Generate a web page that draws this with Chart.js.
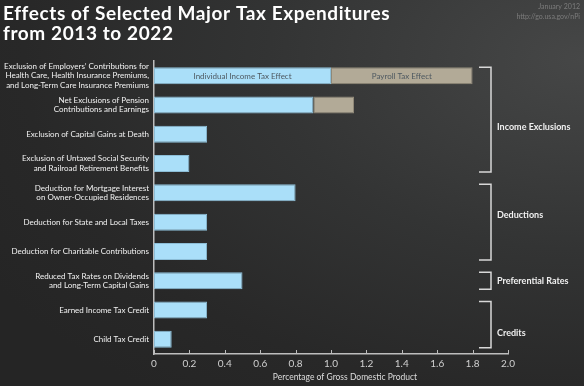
<!DOCTYPE html>
<html>
<head>
<meta charset="utf-8">
<script src="https://cdn.jsdelivr.net/npm/chart.js@4.4.1/dist/chart.umd.min.js"></script>
<style>
html, body { margin: 0; padding: 0; }
body {
    width: 584px; height: 386px; overflow: hidden;
    background: radial-gradient(ellipse 120% 110% at 100% 15%, #464747 0%, #333434 45%, #282828 80%, #252525 100%);
}
#wrap { position: relative; width: 584px; height: 386px; }
</style>
</head>
<body>
<div id="wrap"><canvas id="tax-chart"></canvas></div>
<script>
const titleLines = ['Effects of Selected Major Tax Expenditures', 'from 2013 to 2022'];
const sourceLines = ['January 2012', 'http://go.usa.gov/nPi'];

const categories = [
    ['Exclusion of Employers’ Contributions for', 'Health Care, Health Insurance Premiums,', 'and Long-Term Care Insurance Premiums'],
    ['Net Exclusions of Pension', 'Contributions and Earnings'],
    'Exclusion of Capital Gains at Death',
    ['Exclusion of Untaxed Social Security', 'and Railroad Retirement Benefits'],
    ['Deduction for Mortgage Interest', 'on Owner-Occupied Residences'],
    'Deduction for State and Local Taxes',
    'Deduction for Charitable Contributions',
    ['Reduced Tax Rates on Dividends', 'and Long-Term Capital Gains'],
    'Earned Income Tax Credit',
    'Child Tax Credit'
];
const individualIncome = [1.0, 0.9, 0.3, 0.2, 0.8, 0.3, 0.3, 0.5, 0.3, 0.1];
const payrollTax = [0.8, 0.23, 0, 0, 0, 0, 0, 0, 0, 0];
const seriesNames = ['Individual Income Tax Effect', 'Payroll Tax Effect'];
const xTickLabels = ['0', '0.2', '0.4', '0.6', '0.8', '1.0', '1.2', '1.4', '1.6', '1.8', '2.0'];
const xTitle = 'Percentage of Gross Domestic Product';

const groupNames = ['Income Exclusions', 'Deductions', 'Preferential Rates', 'Credits'];
const groupFirst = [0, 4, 7, 8];
const groupLast  = [3, 6, 7, 9];

const FONT = 'Lato';
// the group labels don't sit exactly mid-bracket in the original
const groupLabelShift = [7, -7, 0, 8];

const extras = {
    id: 'extras',
    afterDatasetsDraw(chart) {
        const { ctx } = chart;
        ctx.save();
        ctx.font = `8px ${FONT}`;
        ctx.fillStyle = '#4d5860';
        ctx.textAlign = 'center';
        ctx.textBaseline = 'middle';
        [0, 1].forEach(d => {
            const bar = chart.getDatasetMeta(d).data[0];
            ctx.fillText(seriesNames[d], (bar.x + bar.base) / 2, bar.y + 0.5);
        });
        ctx.restore();
    },
    afterDraw(chart) {
        const { ctx, chartArea, scales: { x } } = chart;
        ctx.save();

        // title
        ctx.fillStyle = '#ffffff';
        ctx.font = `bold 19px ${FONT}`;
        ctx.letterSpacing = '0.6px';
        ctx.textAlign = 'left';
        ctx.textBaseline = 'alphabetic';
        ctx.fillText(titleLines[0], 3, 20);
        ctx.fillText(titleLines[1], 3, 40);
        ctx.letterSpacing = '0px';

        // source note
        ctx.fillStyle = '#7c7c7c';
        ctx.font = `7px ${FONT}`;
        ctx.textAlign = 'right';
        ctx.textBaseline = 'middle';
        ctx.fillText(sourceLines[0], 580, 7);
        ctx.fillText(sourceLines[1], 580, 17);

        // axis title
        ctx.fillStyle = '#dddddd';
        ctx.font = `8.5px ${FONT}`;
        ctx.textAlign = 'center';
        ctx.fillText(xTitle, 345, 377);

        // upward tick marks
        ctx.strokeStyle = '#bdbdbd';
        ctx.lineWidth = 1;
        ctx.beginPath();
        x.ticks.forEach(t => {
            const px = Math.round(x.getPixelForValue(t.value)) + 0.5;
            ctx.moveTo(px, chartArea.bottom);
            ctx.lineTo(px, chartArea.bottom - 4);
        });
        ctx.stroke();

        // group brackets
        const meta = chart.getDatasetMeta(0);
        const bx = chartArea.right - 17, ax = chartArea.right - 29;
        ctx.strokeStyle = '#d8d8d8';
        ctx.lineWidth = 1.5;
        ctx.fillStyle = '#f0f0f0';
        ctx.font = `bold 9px ${FONT}`;
        ctx.textAlign = 'left';
        groupNames.forEach((name, i) => {
            const a = meta.data[groupFirst[i]], b = meta.data[groupLast[i]];
            const top = a.y - a.height / 2, bot = b.y + b.height / 2;
            ctx.beginPath();
            ctx.moveTo(ax, top);
            ctx.lineTo(bx, top);
            ctx.lineTo(bx, bot);
            ctx.lineTo(ax, bot);
            ctx.stroke();
            ctx.fillText(name, bx + 6, (top + bot) / 2 + groupLabelShift[i]);
        });
        ctx.restore();
    }
};

const ctx = document.getElementById('tax-chart').getContext('2d');
const taxChart = new Chart(ctx, {
    type: 'bar',
    data: {
        labels: categories,
        datasets: [
            {
                label: seriesNames[0],
                data: individualIncome,
                backgroundColor: '#aadff9',
                borderColor: '#8cbdd6',
                borderWidth: 1,
                borderSkipped: false,
            },
            {
                label: seriesNames[1],
                data: payrollTax,
                backgroundColor: '#b2aa97',
                borderColor: '#8f8877',
                borderWidth: 1,
                borderSkipped: false,
            }
        ]
    },
    options: {
        indexAxis: 'y',
        responsive: true,
        maintainAspectRatio: false,
        animation: false,
        barPercentage: 0.58,
        categoryPercentage: 1,
        layout: { padding: { top: 61, right: 76, left: 0, bottom: 0 } },
        plugins: {
            legend: { display: false },
            tooltip: { enabled: false },
        },
        scales: {
            x: {
                stacked: true,
                min: 0,
                max: 2,
                afterFit: s => { s.height = 32; },
                border: { display: true, color: '#bdbdbd', width: 1.5 },
                grid: { display: false, drawTicks: false, tickLength: 0 },
                ticks: {
                    stepSize: 0.2,
                    padding: 4,
                    color: '#d0d0d0',
                    font: { family: FONT, size: 10 },
                    callback: (v, i) => xTickLabels[i],
                },
            },
            y: {
                stacked: true,
                afterFit: s => { s.width = 154; },
                border: { display: true, color: '#bdbdbd', width: 1.5 },
                grid: { display: false, drawTicks: false, tickLength: 0 },
                ticks: {
                    autoSkip: false,
                    padding: 5,
                    color: '#f2f2f2',
                    font: { family: FONT, size: 8, lineHeight: 1.19 },
                },
            }
        }
    },
    plugins: [extras]
});
</script>
</body>
</html>
